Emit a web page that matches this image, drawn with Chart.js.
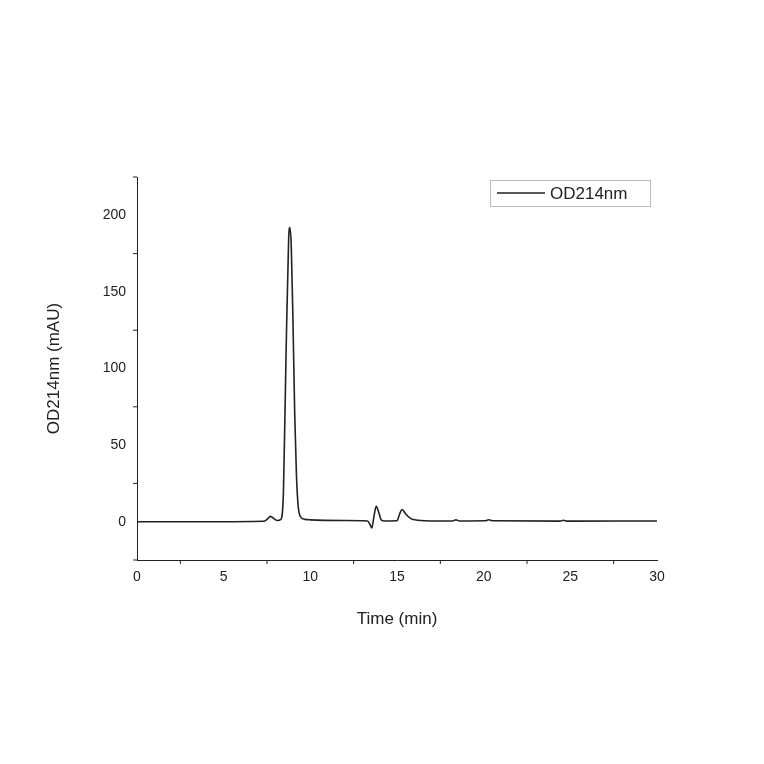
<!DOCTYPE html>
<html>
<head>
<script src="https://cdn.jsdelivr.net/npm/chart.js@4"></script>
<style>
body { margin: 0; background: #fff; }
#wrap { width: 764px; height: 764px; }
</style>
</head>
<body>
<div id="wrap"><canvas id="myChart" width="764" height="764"></canvas></div>
<script>
// retention time (min) and absorbance (mAU)
var times = [0, 4, 7.3, 7.5, 7.7, 7.9, 8.1, 8.3, 8.45, 8.6, 8.75, 8.82, 8.9, 9.0, 9.1, 9.2, 9.3, 9.45, 9.7, 10, 12, 13.3, 13.45, 13.55, 13.65, 13.8, 13.95, 14.1, 14.3, 15, 15.15, 15.3, 15.5, 15.8, 16.2, 17, 18.2, 18.4, 18.6, 20.1, 20.3, 20.5, 24.4, 24.6, 24.8, 30];
var od214 = [0, 0, 0.3, 1.5, 3.5, 2, 0.8, 1.5, 20, 110, 185, 192, 180, 130, 70, 30, 10, 3, 1.5, 1.2, 0.8, 0.5, -2, -4, 2, 10, 6, 1, 0.5, 0.6, 5, 8, 5, 2, 1, 0.5, 0.5, 1.2, 0.5, 0.6, 1.3, 0.6, 0.4, 0.9, 0.4, 0.5];
var seriesName = "OD214nm";
var xTicks = [0, 5, 10, 15, 20, 25, 30];
var yTicks = [0, 50, 100, 150, 200];

var points = times.map(function (t, i) { return { x: t, y: od214[i] }; });
var font = "Liberation Sans, Arial, sans-serif";

var extras = {
	id: "extras",
	afterDraw: function (chart) {
		var ctx = chart.ctx, xs = chart.scales.x, ys = chart.scales.y;
		ctx.save();
		ctx.strokeStyle = "#222";
		ctx.lineWidth = 1;
		// minor ticks
		ctx.beginPath();
		for (var v = 2.5; v < 30; v += 5) {
			var px = xs.getPixelForValue(v);
			ctx.moveTo(px, ys.bottom); ctx.lineTo(px, ys.bottom + 4);
		}
		for (var w = -25; w <= 225; w += 50) {
			var py = ys.getPixelForValue(w);
			ctx.moveTo(xs.left, py); ctx.lineTo(xs.left - 4, py);
		}
		ctx.stroke();
		// legend box
		ctx.strokeStyle = "#bbb";
		ctx.strokeRect(490.5, 180.5, 160, 26);
		ctx.strokeStyle = "#222";
		ctx.lineWidth = 1.5;
		ctx.beginPath(); ctx.moveTo(497, 193); ctx.lineTo(545, 193); ctx.stroke();
		ctx.fillStyle = "#222";
		ctx.font = "17px " + font;
		ctx.textBaseline = "middle";
		ctx.fillText(seriesName, 550, 194);
		ctx.restore();
	}
};

new Chart(document.getElementById("myChart").getContext("2d"), {
	type: "line",
	data: {
		datasets: [{
			label: seriesName,
			data: points,
			borderColor: "#222",
			borderWidth: 1.6,
			pointRadius: 0,
			tension: 0.4,
			cubicInterpolationMode: "monotone",
			fill: false
		}]
	},
	options: {
		responsive: false,
		animation: false,
		layout: { padding: { left: 40, top: 177, right: 107, bottom: 130 } },
		plugins: { legend: { display: false }, tooltip: { enabled: false } },
		scales: {
			x: {
				type: "linear", min: 0, max: 30,
				afterBuildTicks: function (s) { s.ticks = xTicks.map(function (v) { return { value: v }; }); },
				afterFit: function (s) { s.height = 74; },
				grid: { display: false, drawTicks: true, tickLength: 7, tickColor: "#222" },
				border: { color: "#222", width: 1 },
				ticks: { color: "#222", font: { family: font, size: 14 }, padding: 2, maxRotation: 0 },
				title: { display: true, text: "Time (min)", color: "#222", font: { family: font, size: 17 }, padding: { top: 6 } }
			},
			y: {
				min: -25, max: 225,
				afterBuildTicks: function (s) { s.ticks = yTicks.map(function (v) { return { value: v }; }); },
				afterFit: function (s) { s.width = 97; },
				grid: { display: false, drawTicks: true, tickLength: 7, tickColor: "#222" },
				border: { color: "#222", width: 1 },
				ticks: { color: "#222", font: { family: font, size: 14 }, padding: 4 },
				title: { display: true, text: "OD214nm (mAU)", color: "#222", font: { family: font, size: 17 }, padding: { bottom: 14 } }
			}
		}
	},
	plugins: [extras]
});
</script>
</body>
</html>
